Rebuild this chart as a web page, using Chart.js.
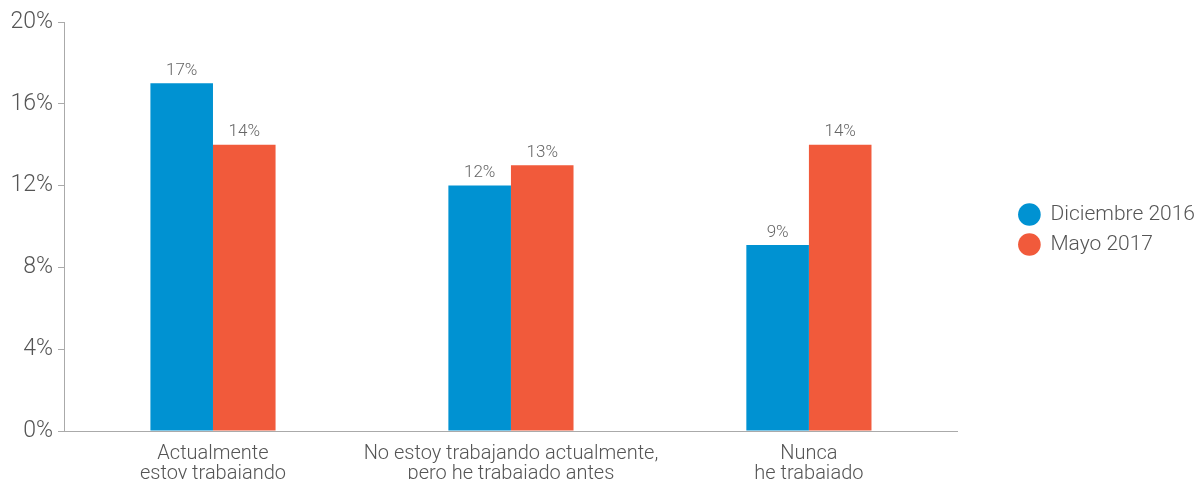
<!DOCTYPE html>
<html>
<head>
<meta charset="utf-8">
<script src="https://cdn.jsdelivr.net/npm/chart.js@4/dist/chart.umd.min.js"></script>
<style>
  html, body { margin: 0; padding: 0; background: #fff; overflow: hidden; }
  #wrap { width: 1198px; height: 489px; position: relative; }
</style>
</head>
<body>
<div id="wrap"><canvas id="myChart"></canvas></div>
<script>
var categories = [
    ["Actualmente", "estoy trabajando"],
    ["No estoy trabajando actualmente,", "pero he trabajado antes"],
    ["Nunca", "he trabajado"]
];
var seriesNames = ["Diciembre 2016", "Mayo 2017"];
var dic2016 = [17, 12, 9.1];
var may2017 = [14, 13, 14];
var labels2016 = ["17%", "12%", "9%"];
var labels2017 = ["14%", "13%", "14%"];
var yTicks = [0, 4, 8, 12, 16, 20];

var fontFamily = "Roboto";
var legendGap = 45;
var legendLift = 26;

// draw the value above each bar
var valueLabels = {
    id: "valueLabels",
    afterDatasetsDraw: function (chart) {
        var ctx = chart.ctx;
        var texts = [labels2016, labels2017];
        ctx.save();
        ctx.font = "300 17px " + fontFamily;
        ctx.fillStyle = "#666";
        ctx.textAlign = "center";
        ctx.textBaseline = "bottom";
        chart.data.datasets.forEach(function (ds, i) {
            chart.getDatasetMeta(i).data.forEach(function (bar, j) {
                ctx.fillText(texts[i][j], bar.x, bar.y - 4);
            });
        });
        ctx.restore();
    }
};

// leave some empty room between the plot and the legend
var legendSpace = {
    id: "legendSpace",
    afterInit: function (chart) {
        var lg = chart.legend;
        var fit = lg.fit, draw = lg.draw;
        lg.fit = function () {
            fit.call(this);
            this.width += legendGap;
        };
        lg.draw = function () {
            this.left += legendGap + 7;
            this.top -= legendLift;
            this.bottom -= legendLift;
            draw.call(this);
            this.left -= legendGap + 7;
            this.top += legendLift;
            this.bottom += legendLift;
        };
    }
};

new Chart("myChart", {
    type: "bar",
    data: {
        labels: categories,
        datasets: [{
            label: seriesNames[0],
            data: dic2016,
            backgroundColor: "#0092D2",
            categoryPercentage: 0.42,
            barPercentage: 1
        },
        {
            label: seriesNames[1],
            data: may2017,
            backgroundColor: "#F15A3B",
            categoryPercentage: 0.42,
            barPercentage: 1
        }]
    },
    options: {
        responsive: true,
        maintainAspectRatio: false,
        animation: false,
        layout: { padding: { top: 22, left: 0, right: 0, bottom: 0 } },
        plugins: {
            tooltip: { enabled: false },
            legend: {
                position: "right",
                align: "center",
                labels: {
                    usePointStyle: true,
                    pointStyle: "circle",
                    boxHeight: 16,
                    padding: 9,
                    color: "#555",
                    font: { family: fontFamily, size: 21, weight: 300 }
                }
            }
        },
        scales: {
            x: {
                grid: { display: false },
                border: { color: "#aaa", width: 1 },
                ticks: {
                    color: "#555",
                    padding: 5,
                    maxRotation: 0,
                    autoSkip: false,
                    font: { family: fontFamily, size: 20, weight: 300, lineHeight: 1 }
                }
            },
            y: {
                min: 0,
                max: 20,
                afterBuildTicks: function (axis) {
                    axis.ticks = yTicks.map(function (v) { return { value: v }; });
                },
                afterFit: function (axis) { axis.width = 64; },
                grid: { drawOnChartArea: false, drawTicks: true, tickLength: 6, color: "#aaa" },
                border: { color: "#aaa", width: 1 },
                ticks: {
                    color: "#555",
                    padding: 5,
                    font: { family: fontFamily, size: 23, weight: 300 },
                    callback: function (v) { return v + "%"; }
                }
            }
        }
    },
    plugins: [valueLabels, legendSpace]
});
</script>
</body>
</html>
